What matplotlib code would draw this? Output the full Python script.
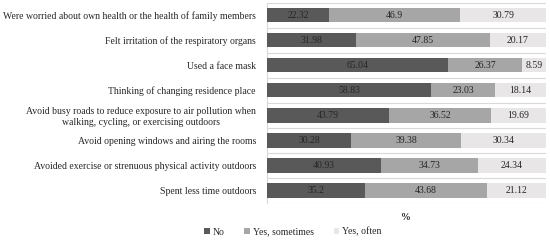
import matplotlib
matplotlib.use("Agg")
import matplotlib.pyplot as plt
import numpy as np

categories = [
    "Were worried about own health or the health of family members",
    "Felt irritation of the respiratory organs",
    "Used a face mask",
    "Thinking of changing residence place",
    "Avoid busy roads to reduce exposure to air pollution when\nwalking, cycling, or exercising outdoors",
    "Avoid opening windows and airing the rooms",
    "Avoided exercise or strenuous physical activity outdoors",
    "Spent less time outdoors",
]
no = [22.32, 31.98, 65.04, 58.83, 43.79, 30.28, 40.93, 35.2]
sometimes = [46.9, 47.85, 26.37, 23.03, 36.52, 39.38, 34.73, 43.68]
often = [30.79, 20.17, 8.59, 18.14, 19.69, 30.34, 24.34, 21.12]
series_names = ["No", "Yes, sometimes", "Yes, often"]
colors = ["#595959", "#a6a6a6", "#e8e6e6"]

plt.rcParams['font.family'] = ['Liberation Serif', 'DejaVu Serif']
txtc = "#262626"

fig = plt.figure(figsize=(5.5, 2.41), dpi=100)
ax = fig.add_axes([267/550, 1-203/241, (546-267)/550, (203-2.5)/241])

y = np.arange(len(categories))
left = np.zeros(len(categories))
for vals, name, c in zip([no, sometimes, often], series_names, colors):
    vals = np.array(vals)
    bars = ax.barh(y, vals, left=left, height=0.58, color=c, label=name, zorder=3)
    for yi, l, v in zip(y, left, vals):
        ax.text(l + v/2, yi, f"{v:g}", ha="center", va="center", fontsize=7, color=txtc, zorder=4)
    left = left + vals

ax.set_xlim(0, 100)
ax.set_ylim(len(categories)-0.5, -0.5)
ax.set_yticks(y)
ax.set_yticklabels(categories, fontsize=7, color=txtc)
ax.set_yticks(np.arange(len(categories)+1)-0.5, minor=True)
ax.tick_params(axis='y', which='both', length=0, pad=8)
ax.set_xticks([])
ax.grid(axis='y', which='minor', color='#d9d9d9', linewidth=0.8, zorder=0)
for s in ['top', 'right', 'bottom']:
    ax.spines[s].set_visible(False)
ax.spines['left'].set_color('#d9d9d9')
ax.spines['left'].set_linewidth(0.8)
for lab in ax.get_yticklabels():
    lab.set_multialignment('center')

fig.text(406/550, 1-218/241, "%", ha="center", va="center", fontsize=7, fontweight="bold", color=txtc)

handles, labels = ax.get_legend_handles_labels()
fig.legend(handles, labels, loc="center", bbox_to_anchor=(293/550, 1-232/241), ncol=3,
           frameon=False, fontsize=7, handlelength=0.6, handleheight=0.6, handletextpad=0.3,
           columnspacing=2.0, labelcolor=txtc)

fig.savefig("out.png", dpi=100)
